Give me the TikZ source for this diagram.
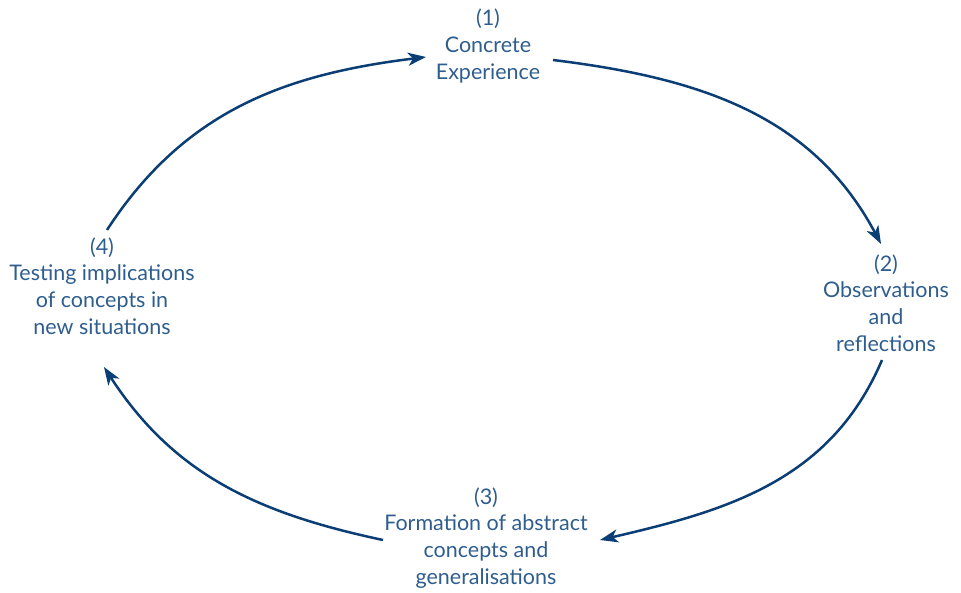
\documentclass[tikz,border=0pt]{standalone}
\usepackage{fontspec}
\setmainfont{Lato}
\usetikzlibrary{arrows.meta}
\definecolor{txtblue}{HTML}{2E5D8E}
\definecolor{arrblue}{HTML}{0A3E74}
\begin{document}
\begin{tikzpicture}[x=1pt,y=1pt,
  lbl/.style={align=center,text=txtblue,font=\fontsize{21.5}{26.8}\selectfont,inner sep=0pt},
  cyc/.style={draw=arrblue,line width=2.5pt,-{Stealth[length=18pt,width=13pt,inset=5pt]}}]
\useasboundingbox (0,0) rectangle (961,592);
\node[lbl] (n1) at (488,546) {(1)\\Concrete\\Experience};
\node[lbl] (n2) at (886,289) {(2)\\Observations\\and\\reflections};
\node[lbl] (n3) at (486,54) {(3)\\Formation of abstract\\concepts and\\generalisations};
\node[lbl] (n4) at (102,306) {(4)\\Testing implications\\of concepts in\\new situations};
\coordinate (a1s) at (107,362);
\coordinate (a1e) at (426,535);
\coordinate (a2s) at (553,532);
\coordinate (a2e) at (881,348);
\coordinate (a3s) at (882,232);
\coordinate (a3e) at (600,52);
\coordinate (a4s) at (383,52);
\coordinate (a4e) at (104,225);
\draw[cyc] (a1s) to[out=57,in=187] (a1e);
\draw[cyc] (a2s) to[out=-7,in=118] (a2e);
\draw[cyc] (a3s) to[out=-113,in=13] (a3e);
\draw[cyc] (a4s) to[out=168,in=-57] (a4e);
\end{tikzpicture}
\end{document}
